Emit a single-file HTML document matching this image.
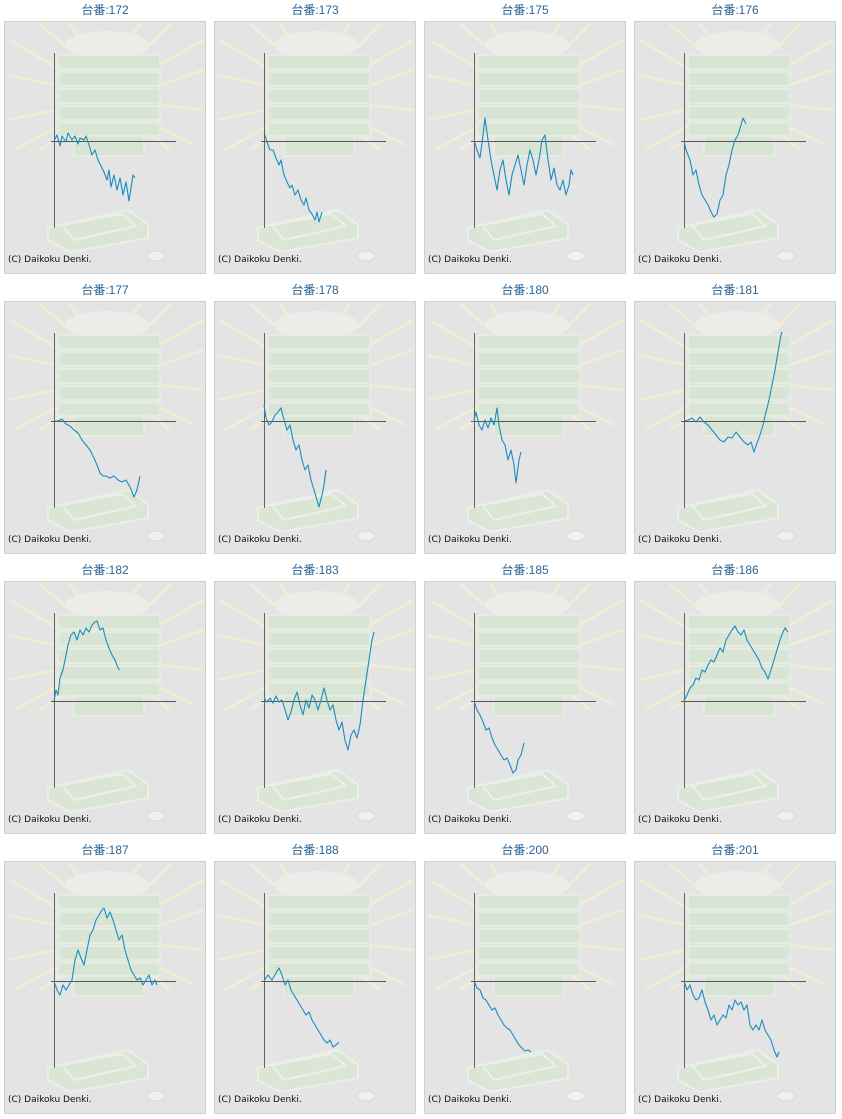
<!DOCTYPE html>
<html><head><meta charset="utf-8"><style>
html,body{margin:0;padding:0;background:#fff;width:842px;height:1119px;overflow:hidden}
svg{display:block}
.t{font-family:"Liberation Sans","Noto Sans CJK JP",sans-serif;font-size:12px;fill:#2a6496}
.c{font-family:"DejaVu Sans","Liberation Sans",sans-serif;font-size:9px;fill:#111}
.s{fill:none;stroke:#1a8cc0;stroke-width:1.1;stroke-linejoin:round}
</style></head><body>
<svg width="842" height="1119" viewBox="0 0 842 1119" xmlns="http://www.w3.org/2000/svg">
<defs>
<g id="bg">
<rect x="4.5" y="21.5" width="201" height="252" fill="#e4e4e4" stroke="#d0d0d0"/>
<g stroke="#f2f2cf" stroke-width="2.5" opacity="0.85">
<line x1="60" y1="70" x2="10" y2="40"/><line x1="55" y1="85" x2="8" y2="75"/><line x1="55" y1="110" x2="8" y2="120"/>
<line x1="60" y1="125" x2="15" y2="150"/><line x1="70" y1="130" x2="40" y2="150"/><line x1="70" y1="50" x2="40" y2="24"/>
<line x1="85" y1="45" x2="70" y2="24"/><line x1="125" y1="45" x2="140" y2="24"/><line x1="145" y1="50" x2="170" y2="24"/>
<line x1="160" y1="65" x2="203" y2="40"/><line x1="160" y1="85" x2="203" y2="70"/><line x1="160" y1="105" x2="203" y2="110"/>
<line x1="155" y1="125" x2="195" y2="145"/><line x1="148" y1="132" x2="170" y2="150"/>
</g>
<ellipse cx="107" cy="45" rx="42" ry="14" fill="#ecece8"/>
<g fill="#d8e6d2" stroke="#e8f0e4" stroke-width="1.5" opacity="0.85">
<rect x="58" y="55" width="102" height="14"/><rect x="58" y="72" width="102" height="14"/>
<rect x="58" y="89" width="102" height="14"/><rect x="58" y="106" width="102" height="14"/>
<rect x="58" y="123" width="102" height="13"/><rect x="74" y="136" width="70" height="20"/>
</g>
<g fill="#d9e6d3" stroke="#ecf3e8" stroke-width="2" opacity="0.85">
<polygon points="48,228 128,210 148,225 148,238 70,252 48,240"/>
<polygon points="62,225 122,214 136,226 74,240" fill="none"/>
</g>
<ellipse cx="156" cy="256" rx="9" ry="5" fill="#f0f0ee" stroke="#d8d8d8"/>
<line x1="54.5" y1="53" x2="54.5" y2="228" stroke="#555" stroke-width="0.9"/>
<line x1="51" y1="141.5" x2="176" y2="141.5" stroke="#555" stroke-width="0.9"/>
<text class="c" x="8" y="262">(C) Daikoku Denki.</text>
</g>
</defs>

<g transform="translate(0,0)"><use href="#bg"/><text class="t" x="105" y="14" text-anchor="middle">台番:172</text>
<polyline class="s" points="54,141 57,135 60,146 62,136 66,142 68,133 72,140 75,136 78,144 80,138 84,140 86,136 89,145 92,155 95,150 98,160 101,166 104,172 107,180 109,170 111,187 114,175 117,190 120,178 123,195 126,182 129,201 131,188 133,175 135,178"/></g>
<g transform="translate(210,0)"><use href="#bg"/><text class="t" x="105" y="14" text-anchor="middle">台番:173</text>
<polyline class="s" points="55,135 57,142 60,150 63,150 66,158 69,165 71,160 74,175 77,182 80,188 82,185 85,195 88,190 91,200 94,205 96,198 99,210 102,214 105,220 107,212 109,222 112,212"/></g>
<g transform="translate(420,0)"><use href="#bg"/><text class="t" x="105" y="14" text-anchor="middle">台番:175</text>
<polyline class="s" points="54,140 57,150 60,158 63,135 65,118 68,140 71,160 74,175 77,190 80,170 83,160 86,180 89,195 92,175 95,165 98,155 101,170 104,185 107,165 110,150 113,160 116,175 119,160 122,140 125,135 128,160 131,180 134,168 137,185 140,190 143,180 146,195 149,185 151,170 153,175"/></g>
<g transform="translate(630,0)"><use href="#bg"/><text class="t" x="105" y="14" text-anchor="middle">台番:176</text>
<polyline class="s" points="54,141 56,150 60,160 63,175 66,170 69,185 72,195 75,200 78,205 81,212 84,217 87,214 90,200 93,195 96,175 99,165 102,150 105,140 108,135 111,125 113,118 116,124"/></g>

<g transform="translate(0,280)"><use href="#bg"/><text class="t" x="105" y="14" text-anchor="middle">台番:177</text>
<polyline class="s" points="54,141 58,141 62,139 66,144 70,146 74,150 78,153 82,160 86,165 90,170 94,178 97,185 100,193 103,196 106,196 110,198 114,196 118,200 122,202 126,200 130,207 134,217 137,210 140,196"/></g>
<g transform="translate(210,280)"><use href="#bg"/><text class="t" x="105" y="14" text-anchor="middle">台番:178</text>
<polyline class="s" points="54,125 56,138 59,145 62,142 65,135 68,132 71,128 74,140 77,150 80,145 83,160 86,170 89,165 92,180 95,190 98,185 101,200 104,210 107,220 109,227 112,215 114,205 116,190"/></g>
<g transform="translate(420,280)"><use href="#bg"/><text class="t" x="105" y="14" text-anchor="middle">台番:180</text>
<polyline class="s" points="54,140 56,132 59,145 62,150 65,140 68,148 71,138 74,145 77,128 79,145 82,160 85,165 88,180 91,170 94,185 96,203 99,180 101,172"/></g>
<g transform="translate(630,280)"><use href="#bg"/><text class="t" x="105" y="14" text-anchor="middle">台番:181</text>
<polyline class="s" points="54,141 58,140 62,138 66,142 70,137 74,142 78,145 82,150 86,155 90,160 94,162 98,157 102,158 106,152 110,157 114,162 118,165 121,162 124,172 127,163 130,155 133,145 136,132 139,120 142,105 145,90 148,72 151,55 152,52"/></g>

<g transform="translate(0,560)"><use href="#bg"/><text class="t" x="105" y="14" text-anchor="middle">台番:182</text>
<polyline class="s" points="54,141 56,130 58,135 60,118 63,110 65,100 68,85 71,75 74,72 77,80 80,70 83,75 86,68 89,72 92,65 95,62 97,61 100,70 103,68 106,80 109,88 112,95 115,100 118,108 120,110"/></g>
<g transform="translate(210,560)"><use href="#bg"/><text class="t" x="105" y="14" text-anchor="middle">台番:183</text>
<polyline class="s" points="54,138 57,142 60,138 63,143 66,136 69,142 72,140 75,150 78,160 81,152 84,140 87,132 90,145 93,155 96,140 99,148 102,135 105,140 108,150 111,140 114,128 117,140 120,150 123,145 126,160 129,170 132,162 135,180 138,190 141,175 144,170 147,178 150,165 153,140 156,120 159,100 162,80 164,72"/></g>
<g transform="translate(420,560)"><use href="#bg"/><text class="t" x="105" y="14" text-anchor="middle">台番:185</text>
<polyline class="s" points="54,141 57,150 60,155 63,162 66,170 69,168 72,178 75,185 78,190 81,195 84,200 87,198 90,205 93,213 96,210 98,200 101,195 104,183"/></g>
<g transform="translate(630,560)"><use href="#bg"/><text class="t" x="105" y="14" text-anchor="middle">台番:186</text>
<polyline class="s" points="54,141 57,135 60,128 63,125 66,118 69,120 72,110 75,112 78,105 81,100 84,102 87,95 90,88 93,92 96,80 99,75 102,70 105,66 108,72 111,75 114,70 117,80 120,85 123,90 126,95 129,100 132,108 135,112 138,119 141,110 144,100 147,90 150,80 153,72 155,68 158,72"/></g>

<g transform="translate(0,840)"><use href="#bg"/><text class="t" x="105" y="14" text-anchor="middle">台番:187</text>
<polyline class="s" points="54,141 57,150 60,155 63,145 66,150 69,145 72,140 75,120 78,110 81,118 84,125 87,110 90,95 93,90 96,80 99,75 102,70 104,68 107,78 110,72 113,80 116,90 119,100 122,95 125,110 128,120 131,130 134,135 137,140 140,138 143,145 146,140 149,135 152,145 155,140 157,145"/></g>
<g transform="translate(210,840)"><use href="#bg"/><text class="t" x="105" y="14" text-anchor="middle">台番:188</text>
<polyline class="s" points="54,141 58,135 62,140 66,133 69,128 72,135 75,145 78,140 81,150 84,155 87,160 90,165 93,170 96,175 99,172 102,180 105,185 108,190 111,195 114,200 117,203 120,200 123,207 126,205 129,202"/></g>
<g transform="translate(420,840)"><use href="#bg"/><text class="t" x="105" y="14" text-anchor="middle">台番:200</text>
<polyline class="s" points="54,141 57,148 60,150 63,158 66,160 69,165 72,170 75,168 78,175 81,180 84,185 87,188 90,190 93,195 96,200 99,205 102,208 105,211 108,210 111,212"/></g>
<g transform="translate(630,840)"><use href="#bg"/><text class="t" x="105" y="14" text-anchor="middle">台番:201</text>
<polyline class="s" points="54,141 57,150 60,145 63,155 66,160 69,158 72,150 75,162 78,170 81,180 84,175 87,185 90,180 93,175 96,178 99,165 102,170 105,160 108,165 111,162 114,170 117,165 120,185 123,190 126,185 129,190 132,180 135,190 138,195 141,200 144,210 147,217 149,212"/></g>
</svg>
</body></html>
